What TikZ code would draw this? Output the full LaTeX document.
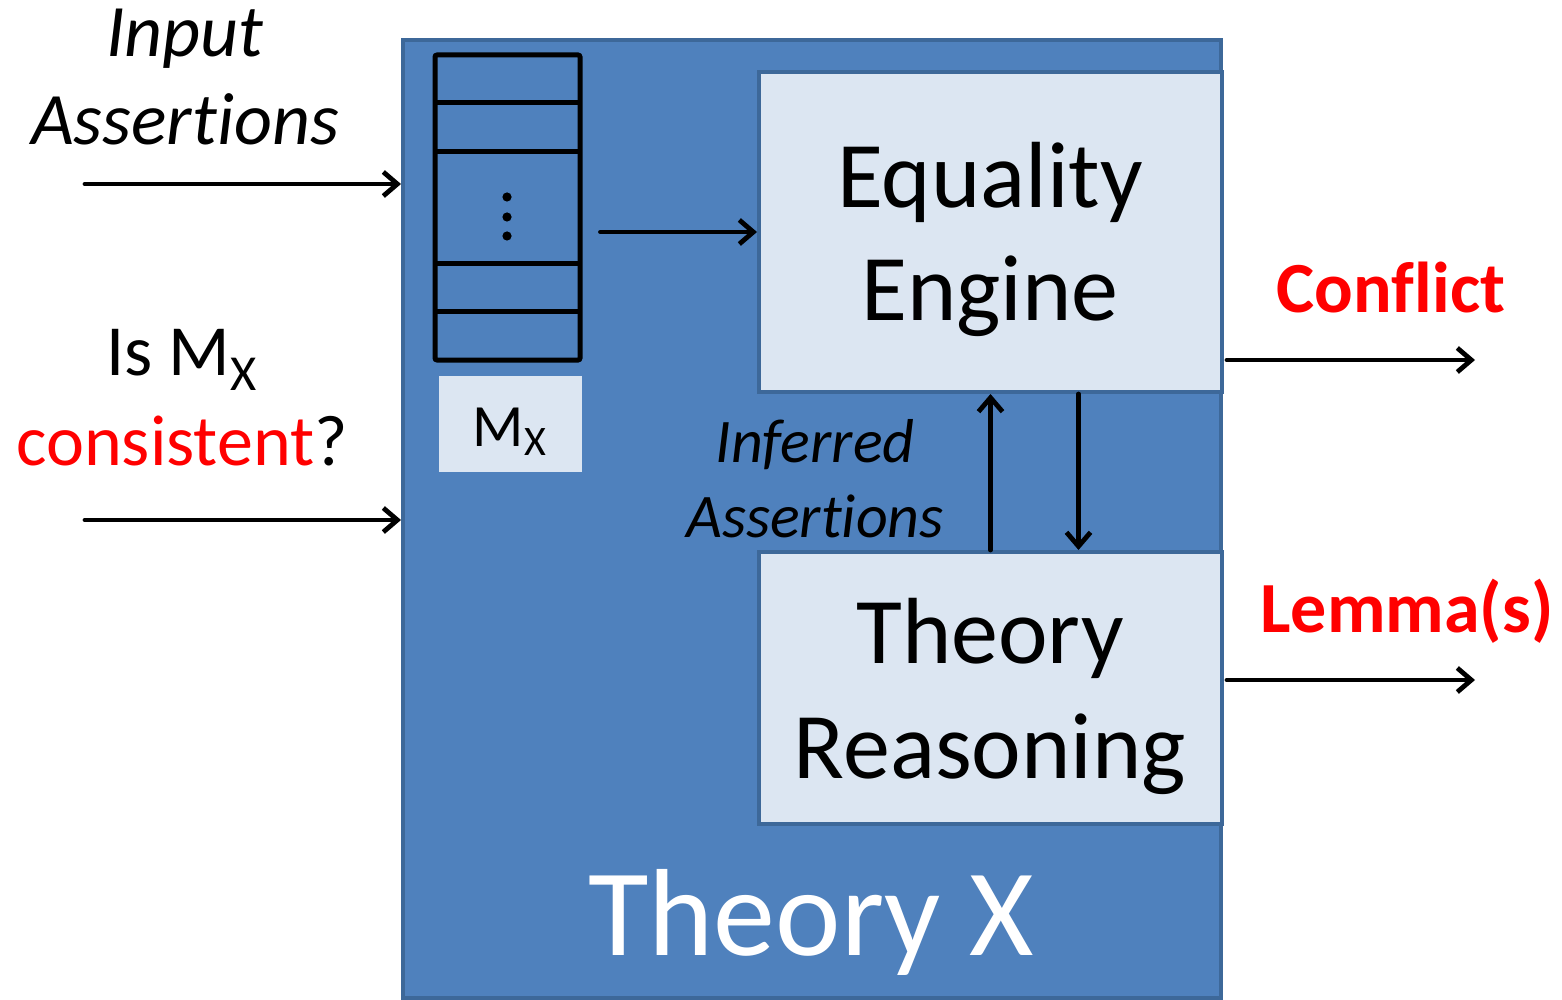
\documentclass[tikz,border=0pt]{standalone}
\usepackage{fontspec}
\setmainfont{Carlito}[Ligatures=NoCommon]
\usetikzlibrary{arrows.meta,positioning}

\definecolor{boxblue}{HTML}{4F81BD}
\definecolor{boxedge}{HTML}{3D6899}
\definecolor{paleblue}{HTML}{DCE6F2}
\definecolor{alertred}{HTML}{FF0000}

\begin{document}
\begin{tikzpicture}[
    x=0.5pt, y=-0.5pt,
    theorybox/.style={rectangle, fill=boxblue, draw=boxedge, line width=2pt, minimum width=409pt, minimum height=479pt, inner sep=0pt},
    engine/.style={rectangle, fill=paleblue, draw=boxedge, line width=2pt, minimum width=231.5pt, inner sep=0pt},
    stackbox/.style={rectangle, draw=black, line width=2.5pt, rounded corners=1pt, minimum width=72.5pt, minimum height=152.5pt, inner sep=0pt},
    txt/.style={anchor=base, align=center, inner sep=0pt},
    arr/.style={line width=2.4pt, line cap=round, line join=round, -{Straight Barb[length=7pt, width=12pt]}}
]
\useasboundingbox (0,0) rectangle (1562,1000);

% theory X frame
\node[theorybox] (thx) at (812,519) {};
\node[txt, text=white, font=\fontsize{62}{74}\selectfont] (thxlbl) at (811,955) {Theory X};

% assertion stack M_X
\node[stackbox] (stack) at (507.5,207.5) {};
\foreach \yy in {103,152,263,311}
    \draw[line width=2.5pt] (435,\yy) -- (580,\yy);
\foreach \yy in {197,217,236}
    \fill (507,\yy) circle (2.3pt);
\node[rectangle, fill=paleblue, minimum width=71.5pt, minimum height=48pt, inner sep=0pt] (mx) at (510.5,424) {};
\node[txt, font=\fontsize{30}{36}\selectfont] (mxlbl) at (510,446) {M\textsubscript{X}};

% engines (base anchor = last line)
\node[engine, minimum height=160pt] (eq) at (990.5,232) {};
\node[txt, font=\fontsize{47}{56}\selectfont] (eqlbl) at (990,320) {Equality\\Engine};
\node[engine, minimum height=136pt] (tr) at (990.5,688) {};
\node[txt, font=\fontsize{47}{57.5}\selectfont] (trlbl) at (990,778) {Theory\\Reasoning};
\node[txt, font=\fontsize{31}{37.5}\selectfont\itshape] (inf) at (815,537) {Inferred\\Assertions};

% inputs
\node[txt, font=\fontsize{37}{44}\selectfont\itshape] (inlbl) at (185,145) {Input\\Assertions};
\node[txt, font=\fontsize{36}{45}\selectfont] (qlbl) at (182,465) {Is M\textsubscript{X}\\\textcolor{alertred}{consistent}?};
\coordinate (in1) at (85,184);
\coordinate (in2) at (85,520);

% outputs
\node[txt, text=alertred, font=\fontsize{36}{44}\selectfont\bfseries] (conf) at (1391,312) {Conflict};
\node[txt, text=alertred, font=\fontsize{36}{44}\selectfont\bfseries] (lem) at (1407,632) {Lemma(s)};
\coordinate (out1) at (1475,360);
\coordinate (out2) at (1475,680);

\draw[arr] (in1) -- (in1 -| thx.west);
\draw[arr] (in2) -- (in2 -| thx.west);
\draw[arr] ([xshift=9pt]stack.east |- eq.west) -- (eq.west);
\draw[arr] (tr.north) -- (eq.south);
\draw[arr] ([xshift=44pt]eq.south) -- ([xshift=44pt]tr.north);
\draw[arr] ([xshift=1.5pt]eq.east |- out1) -- (out1);
\draw[arr] ([xshift=1.5pt]tr.east |- out2) -- (out2);
\end{tikzpicture}
\end{document}
